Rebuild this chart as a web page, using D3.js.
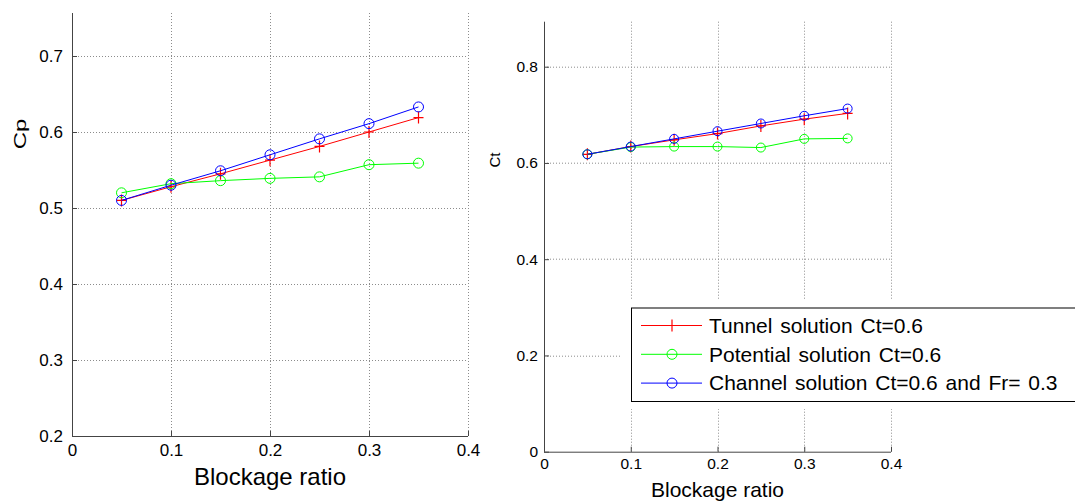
<!DOCTYPE html>
<html>
<head>
<meta charset="utf-8">
<script src="https://cdn.jsdelivr.net/npm/d3@7"></script>
<style>
  body { margin: 0; background: #fff; }
  svg { display: block; font-family: "Liberation Sans", Arial, sans-serif; }
  .axis path, .axis line { stroke: #444; }
  .axis text { fill: #000; }
</style>
</head>
<body>
<svg id="chart" width="1075" height="502"></svg>
<script>
// blockage ratio on x
var blockage = [0.05, 0.1, 0.15, 0.2, 0.25, 0.3, 0.35];

// power coefficient (left panel)
var cpTunnel    = [0.510, 0.528, 0.545, 0.563, 0.581, 0.600, 0.619];
var cpPotential = [0.520, 0.532, 0.536, 0.539, 0.541, 0.557, 0.559];
var cpChannel   = [0.510, 0.530, 0.549, 0.570, 0.591, 0.611, 0.633];

// thrust coefficient (right panel)
var ctTunnel    = [0.618, 0.634, 0.648, 0.661, 0.677, 0.691, 0.703];
var ctPotential = [0.618, 0.633, 0.634, 0.634, 0.632, 0.650, 0.651];
var ctChannel   = [0.618, 0.634, 0.650, 0.666, 0.682, 0.698, 0.713];

var xTicks  = [0, 0.1, 0.2, 0.3, 0.4];
var cpTicks = [0.2, 0.3, 0.4, 0.5, 0.6, 0.7];
var ctTicks = [0, 0.2, 0.4, 0.6, 0.8];

var seriesNames = ["Tunnel solution Ct=0.6", "Potential solution Ct=0.6", "Channel solution Ct=0.6 and Fr= 0.3"];
var seriesColors = ["#ff0000", "#00ff00", "#0000ff"];
var seriesMarkers = ["plus", "circle", "circle"];

var svg = d3.select("#chart");
var fmt = function(d) { return d === 0 ? "0" : d3.format(".1f")(d); };

function panel(opt) {
  var w = opt.right - opt.left, h = opt.bottom - opt.top;
  var g = svg.append("g").attr("transform", "translate(" + opt.left + "," + opt.top + ")");

  var x = d3.scaleLinear().domain([0, 0.4]).range([0, w]);
  var y = d3.scaleLinear().domain(opt.yDomain).range([h, 0]);

  // dotted grid
  var grid = g.append("g")
      .attr("stroke", "#8c8c8c")
      .attr("stroke-width", 1)
      .attr("stroke-dasharray", "1,2");
  grid.selectAll(".gx").data(xTicks.slice(1)).enter().append("line")
      .attr("x1", function(d) { return Math.round(x(d)) + 0.5; })
      .attr("x2", function(d) { return Math.round(x(d)) + 0.5; })
      .attr("y1", 0).attr("y2", h);
  grid.selectAll(".gy").data(opt.yTicks.slice(1)).enter().append("line")
      .attr("y1", function(d) { return Math.round(y(d)) + 0.5; })
      .attr("y2", function(d) { return Math.round(y(d)) + 0.5; })
      .attr("x1", 0).attr("x2", w);

  if (opt.legend) {
    g.append("rect")
      .attr("x", opt.legend.x - opt.left - 11)
      .attr("y", opt.legend.y - opt.top - 8)
      .attr("width", 600).attr("height", opt.legend.h + 16)
      .attr("fill", "#fff");
  }

  var line = d3.line()
      .x(function(d) { return x(d[0]); })
      .y(function(d) { return y(d[1]); });

  opt.series.forEach(function(vals, i) {
    var pts = blockage.map(function(b, j) { return [b, vals[j]]; });
    g.append("path")
      .datum(pts)
      .attr("fill", "none")
      .attr("stroke", seriesColors[i])
      .attr("stroke-width", 1)
      .attr("d", line);
    var m = g.append("g").selectAll("g").data(pts).enter().append("g")
      .attr("transform", function(d) { return "translate(" + x(d[0]) + "," + y(d[1]) + ")"; });
    if (seriesMarkers[i] === "plus") {
      m.append("path").attr("d", "M-5,0H5M0,-6V6")
        .attr("stroke", seriesColors[i]).attr("stroke-width", 1.2).attr("fill", "none");
    } else {
      m.append("circle").attr("r", opt.r)
        .attr("stroke", seriesColors[i]).attr("stroke-width", 1).attr("fill", "none");
    }
  });

  var xa = g.append("g").attr("class", "axis")
      .attr("transform", "translate(0," + h + ")")
      .call(d3.axisBottom(x).tickValues(xTicks).tickFormat(fmt)
        .tickSizeInner(-5).tickSizeOuter(0).tickPadding(opt.xPad));
  xa.selectAll("text").attr("font-size", opt.tickFont);

  var ya = g.append("g").attr("class", "axis")
      .call(d3.axisLeft(y).tickValues(opt.yTicks).tickFormat(fmt)
        .tickSizeInner(-5).tickSizeOuter(0).tickPadding(opt.yPad));
  ya.selectAll("text").attr("font-size", opt.tickFont);
  ya.select(".domain").attr("d", "M0.5," + h + "V0");
  xa.select(".domain").attr("d", "M0,0.5H" + w);

  g.append("text")
    .attr("x", w / 2)
    .attr("y", opt.xLabelY - opt.top)
    .attr("dy", "0.35em")
    .attr("text-anchor", "middle")
    .attr("font-size", opt.labelFont)
    .text("Blockage ratio");

  g.append("text")
    .attr("transform", "translate(" + (opt.yLabelX - opt.left) + "," + (opt.yLabelY - opt.top) + ") scale(" + opt.yLabelSquash + ",1) rotate(-90)")
    .attr("dy", "0.35em")
    .attr("text-anchor", "middle")
    .attr("font-size", opt.yLabelFont)
    .text(opt.yLabel);

  if (opt.legend) {
    var L = opt.legend;
    var lg = svg.append("g");
    lg.append("rect")
      .attr("x", L.x + 0.5).attr("y", L.y + 0.5)
      .attr("width", 600).attr("height", L.h)
      .attr("fill", "#fff").attr("stroke", "#000").attr("stroke-width", 1);
    seriesNames.forEach(function(name, i) {
      var ry = L.y + 18 + i * 28.8;
      var row = lg.append("g").attr("transform", "translate(" + L.x + "," + ry + ")");
      row.append("line").attr("x1", 10).attr("x2", 71).attr("y1", 0).attr("y2", 0)
        .attr("stroke", seriesColors[i]).attr("stroke-width", 1);
      if (seriesMarkers[i] === "plus") {
        row.append("path").attr("d", "M41,-6V6").attr("stroke", seriesColors[i]).attr("stroke-width", 1.2);
      } else {
        row.append("circle").attr("cx", 41).attr("r", 5)
          .attr("fill", "none").attr("stroke", seriesColors[i]);
      }
      row.append("text").attr("x", 78).attr("dy", "0.35em")
        .attr("font-size", 21).attr("word-spacing", 2).text(name);
    });
  }
}

panel({
  left: 72, right: 468, top: 13, bottom: 436,
  yDomain: [0.2, 0.7566], yTicks: cpTicks,
  series: [cpTunnel, cpPotential, cpChannel],
  r: 5, tickFont: 17, labelFont: 24, yLabelFont: 24, yLabelSquash: 0.7, xPad: 8, yPad: 9,
  xLabelY: 477, yLabel: "Cp", yLabelX: 20, yLabelY: 134
});

panel({
  left: 544, right: 891, top: 21.7, bottom: 451.7,
  yDomain: [0, 0.8935], yTicks: ctTicks,
  series: [ctTunnel, ctPotential, ctChannel],
  r: 4.5, tickFont: 15.5, labelFont: 21, yLabelFont: 15, yLabelSquash: 1, xPad: 6, yPad: 6,
  xLabelY: 490, yLabel: "Ct", yLabelX: 495, yLabelY: 160,
  legend: { x: 631, y: 307.5, h: 93.5 }
});
</script>
</body>
</html>
